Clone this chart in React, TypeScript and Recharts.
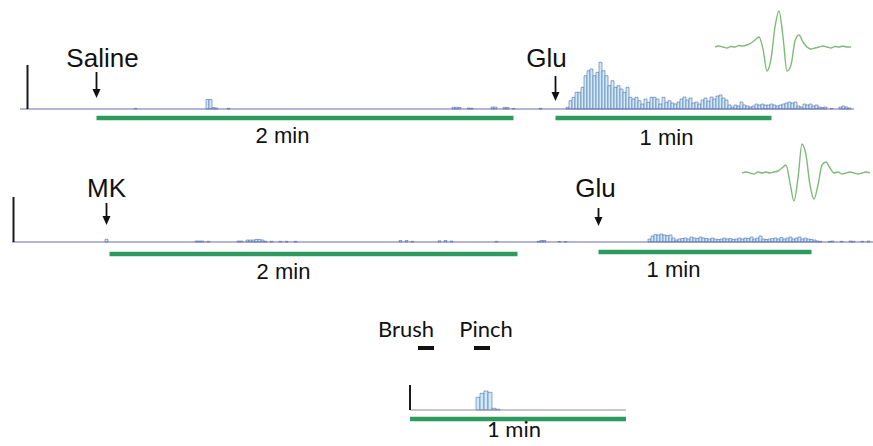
import React from 'react';
import { BarChart, Bar, XAxis, YAxis, ReferenceLine, ReferenceDot, LineChart, Line } from 'recharts';

// ---------- Row 1: Saline, then Glu (equal-width time bins) ----------
const salineBinCount = 278;
const salineSpontaneous: [number, number][] = [
  [38, 0.7], [62, 9.5], [63, 9.5], [64, 1.5], [65, 1], [69, 0.7],
  [144, 1.7], [145, 1.7], [146, 1.5], [149, 1], [150, 0.8], [157, 2], [158, 2],
  [161, 1.7], [162, 1.5], [164, 0.5], [173, 0.7],
];
const salineGluStart = 182;
const salineGluCounts = [
  1.7, 8.3, 11.7, 16.7, 16.7, 21.7, 33.3, 38.3, 40, 33.3, 36.7, 46.7, 38.3, 33.3, 23.3, 28.3,
  21.7, 23.3, 20, 16.7, 21.7, 11.7, 10, 11.7, 8.3, 5, 10, 6.7, 11.7, 11.7, 10, 5, 11.7, 6.7, 8.3,
  6, 5, 7, 10, 12, 9, 11, 6, 7, 5, 9, 11, 8, 12, 10, 13, 14, 11, 9, 4, 2, 4, 3, 7, 4, 3, 2, 3,
  5, 4, 5, 4, 4, 5, 4, 3, 4, 5, 6, 7, 6, 7, 3, 2, 5, 4, 5, 3, 4, 2, 1.5, 2, 0, 0.5, 0, 0, 2, 3,
  2, 1, 0,
];
const salineWave = [0, 1, 0, -1, 0.5, 0, 1.5, 1, 2, 4, 7, 10, -2, -24, -12, 20, 36, 10, -24, -18, 6, 12, 5, 0, -2, -1, 0, 1, 0, -1, 0.5, 0, 1, 0, 0];

// ---------- Row 2: MK, then Glu ----------
const mkBinCount = 287;
const mkSpontaneous: [number, number][] = [
  [31, 2.7], [61, 1], [62, 1], [63, 1], [65, 0.7], [75, 1], [76, 1], [78, 2], [79, 2], [80, 2],
  [81, 2.5], [82, 2.5], [83, 2], [84, 0.7], [86, 0.7], [89, 0.7], [91, 0.7], [94, 0.7],
  [129, 1.5], [131, 1.5], [133, 0.7], [142, 1.2], [144, 1.5], [146, 1], [161, 0.7], [175, 0.7],
  [176, 1.5], [177, 1.5], [182, 0.5], [184, 0.5], [268, 1], [269, 0.7], [272, 0.7], [273, 1],
  [276, 0.7], [279, 1], [280, 0.7], [283, 0.7], [285, 1],
];
const mkGluStart = 212;
const mkGluCounts = [
  3, 6, 7.5, 7, 8, 7, 6.5, 7, 4,
  2, 3, 3.5, 4, 3, 5, 4, 3.5, 5, 4, 3.5, 3, 4, 3, 2.5, 3, 4, 3, 3.5, 2.5, 3, 4, 3, 4, 3.5, 5, 3,
  4, 6, 3, 2.5, 3, 3.5, 4, 3, 4.5, 3, 4, 5, 3, 4, 5, 3, 4, 3, 2.5, 2,
];
const mkWave = [0, 1, 0, -1, 1, 0, 1, 0, 1, 2, 5, 8, -10, -28, -5, 29, 18, -12, -26, -12, 8, 11, 5, 0, 1, -1, 0, 1, 0, -1, 0, 1, 0];

// ---------- Row 3: Brush / Pinch ----------
const touchBinCount = 66;
const touchCounts: [number, number][] = [[27, 12.7], [28, 16.7], [29, 19], [30, 17.7], [31, 1.7], [32, 0.8]];

// ---------- labels ----------
const rowLabels = { saline: 'Saline', mk: 'MK', glu: 'Glu', twoMin: '2 min', oneMin: '1 min', brush: 'Brush', pinch: 'Pinch' };

type Bin = { t: number; v: number };
function buildBins(n: number, sparse: [number, number][], start = 0, counts: number[] = []): Bin[] {
  const rows: Bin[] = Array.from({ length: n }, (_, t) => ({ t, v: 0 }));
  sparse.forEach(([t, v]) => { if (rows[t]) rows[t].v = v; });
  counts.forEach((v, i) => { if (rows[start + i]) rows[start + i].v = v; });
  return rows;
}
const waveRows = (vals: number[]) => vals.map((w, k) => ({ k, w }));

const row1 = buildBins(salineBinCount, salineSpontaneous, salineGluStart, salineGluCounts);
const row2 = buildBins(mkBinCount, mkSpontaneous, mkGluStart, mkGluCounts);
const row3 = buildBins(touchBinCount, touchCounts);

const ARIAL = '"Liberation Sans", Arial, sans-serif';
const LATO = 'Lato, "Open Sans", sans-serif';
const BAR_FILL = '#cdeaf5';
const BAR_STROKE = '#4660a8';
const BASE = '#6a6eac';
const GREEN = '#2e9b5e';
const WAVE = '#7fbb78';

const textShape = (label: string, size: number, family: string) => (p: any) => (
  <text x={p.cx} y={p.cy} textAnchor="middle" fontSize={size} fontFamily={family} fill="#111">{label}</text>
);

const arrowShape = (p: any) => {
  const { x1, y1, x2, y2 } = p;
  const top = Math.min(y1, y2);
  const tip = Math.max(y1, y2);
  return (
    <g>
      <line x1={x1} y1={top} x2={x2} y2={tip - 7} stroke="#111" strokeWidth={1.8} />
      <polygon points={`${x2 - 4},${tip - 9} ${x2 + 4},${tip - 9} ${x2},${tip}`} fill="#111" />
    </g>
  );
};

const seg = (xa: number, ya: number, xb: number, yb: number) => [{ x: xa, y: ya }, { x: xb, y: yb }] as any;

function Waveform({ data, left, top, width, height, domain }: { data: { k: number; w: number }[]; left: number; top: number; width: number; height: number; domain: [number, number] }) {
  return (
    <div style={{ position: 'absolute', left, top }}>
      <LineChart width={width} height={height} data={data} margin={{ top: 0, right: 0, bottom: 0, left: 0 }}>
        <XAxis dataKey="k" type="number" domain={[0, data.length - 1]} hide />
        <YAxis type="number" domain={domain} allowDataOverflow hide />
        <Line dataKey="w" type="monotone" stroke={WAVE} strokeWidth={1.4} dot={false} isAnimationActive={false} />
      </LineChart>
    </div>
  );
}

export default function App() {
  return (
    <div style={{ position: 'absolute', left: 0, top: 0, width: 873, height: 446, background: '#fff', overflow: 'hidden' }}>
      {/* Row 1 */}
      <div style={{ position: 'absolute', left: 0, top: 0 }}>
        <BarChart width={873} height={150} data={row1} margin={{ top: 0, right: 19, bottom: 0, left: 20 }} barCategoryGap={0} barGap={0}>
          <XAxis dataKey="t" hide />
          <YAxis type="number" domain={[-41, 109]} allowDataOverflow hide />
          <ReferenceLine y={0} stroke={BASE} strokeWidth={1.2} />
          <Bar dataKey="v" fill={BAR_FILL} stroke={BAR_STROKE} strokeWidth={0.55} isAnimationActive={false} />
          <ReferenceLine segment={seg(2, 0, 2, 44)} stroke="#1a1a1a" strokeWidth={2} />
          <ReferenceLine segment={seg(25, 37, 25, 11)} shape={arrowShape} />
          <ReferenceLine segment={seg(178, 33, 178, 8)} shape={arrowShape} />
          <ReferenceLine segment={seg(25, -9, 164, -9)} stroke={GREEN} strokeWidth={4.5} />
          <ReferenceLine segment={seg(178, -9, 250, -9)} stroke={GREEN} strokeWidth={4.5} />
          <ReferenceDot x={27} y={42} r={0} shape={textShape(rowLabels.saline, 26, ARIAL)} />
          <ReferenceDot x={175} y={42} r={0} shape={textShape(rowLabels.glu, 26, ARIAL)} />
          <ReferenceDot x={87} y={-34} r={0} shape={textShape(rowLabels.twoMin, 22, ARIAL)} />
          <ReferenceDot x={215} y={-36} r={0} shape={textShape(rowLabels.oneMin, 22, ARIAL)} />
        </BarChart>
      </div>
      <Waveform data={waveRows(salineWave)} left={715} top={0} width={136} height={90} domain={[-43, 47]} />

      {/* Row 2 */}
      <div style={{ position: 'absolute', left: 0, top: 130 }}>
        <BarChart width={873} height={156} data={row2} margin={{ top: 0, right: 0, bottom: 0, left: 12 }} barCategoryGap={0} barGap={0}>
          <XAxis dataKey="t" hide />
          <YAxis type="number" domain={[-44, 112]} allowDataOverflow hide />
          <ReferenceLine y={0} stroke={BASE} strokeWidth={1.2} />
          <Bar dataKey="v" fill={BAR_FILL} stroke={BAR_STROKE} strokeWidth={0.55} isAnimationActive={false} />
          <ReferenceLine segment={seg(0, 0, 0, 45)} stroke="#1a1a1a" strokeWidth={2} />
          <ReferenceLine segment={seg(31, 39, 31, 17)} shape={arrowShape} />
          <ReferenceLine segment={seg(195, 34, 195, 16)} shape={arrowShape} />
          <ReferenceLine segment={seg(32, -12, 168, -12)} stroke={GREEN} strokeWidth={4.5} />
          <ReferenceLine segment={seg(195, -10, 266, -10)} stroke={GREEN} strokeWidth={4.5} />
          <ReferenceDot x={31} y={45} r={0} shape={textShape(rowLabels.mk, 26, ARIAL)} />
          <ReferenceDot x={194} y={45} r={0} shape={textShape(rowLabels.glu, 26, ARIAL)} />
          <ReferenceDot x={90} y={-37} r={0} shape={textShape(rowLabels.twoMin, 22, ARIAL)} />
          <ReferenceDot x={220} y={-35} r={0} shape={textShape(rowLabels.oneMin, 22, ARIAL)} />
        </BarChart>
      </div>
      <Waveform data={waveRows(mkWave)} left={742} top={130} width={128} height={90} domain={[-47, 43]} />

      {/* Row 3 */}
      <div style={{ position: 'absolute', left: 0, top: 300 }}>
        <BarChart width={873} height={146} data={row3} margin={{ top: 0, right: 241, bottom: 0, left: 368 }} barCategoryGap={0} barGap={0}>
          <XAxis dataKey="t" hide />
          <YAxis type="number" domain={[-36, 110]} allowDataOverflow hide />
          <ReferenceLine segment={seg(10, 0, 64, 0)} stroke="#8b8bab" strokeWidth={1.2} />
          <Bar dataKey="v" fill={BAR_FILL} stroke={BAR_STROKE} strokeWidth={0.55} isAnimationActive={false} />
          <ReferenceLine segment={seg(10, 0, 10, 25)} stroke="#1a1a1a" strokeWidth={2} />
          <ReferenceLine segment={seg(10, -9, 64, -9)} stroke={GREEN} strokeWidth={4.5} />
          <ReferenceLine segment={seg(12, 62, 16, 62)} stroke="#111" strokeWidth={4} />
          <ReferenceLine segment={seg(26, 62, 30, 62)} stroke="#111" strokeWidth={4} />
          <ReferenceDot x={9} y={73} r={0} shape={textShape(rowLabels.brush, 22, LATO)} />
          <ReferenceDot x={29} y={73} r={0} shape={textShape(rowLabels.pinch, 22, LATO)} />
          <ReferenceDot x={36} y={-27} r={0} shape={textShape(rowLabels.oneMin, 22, LATO)} />
        </BarChart>
      </div>
    </div>
  );
}
